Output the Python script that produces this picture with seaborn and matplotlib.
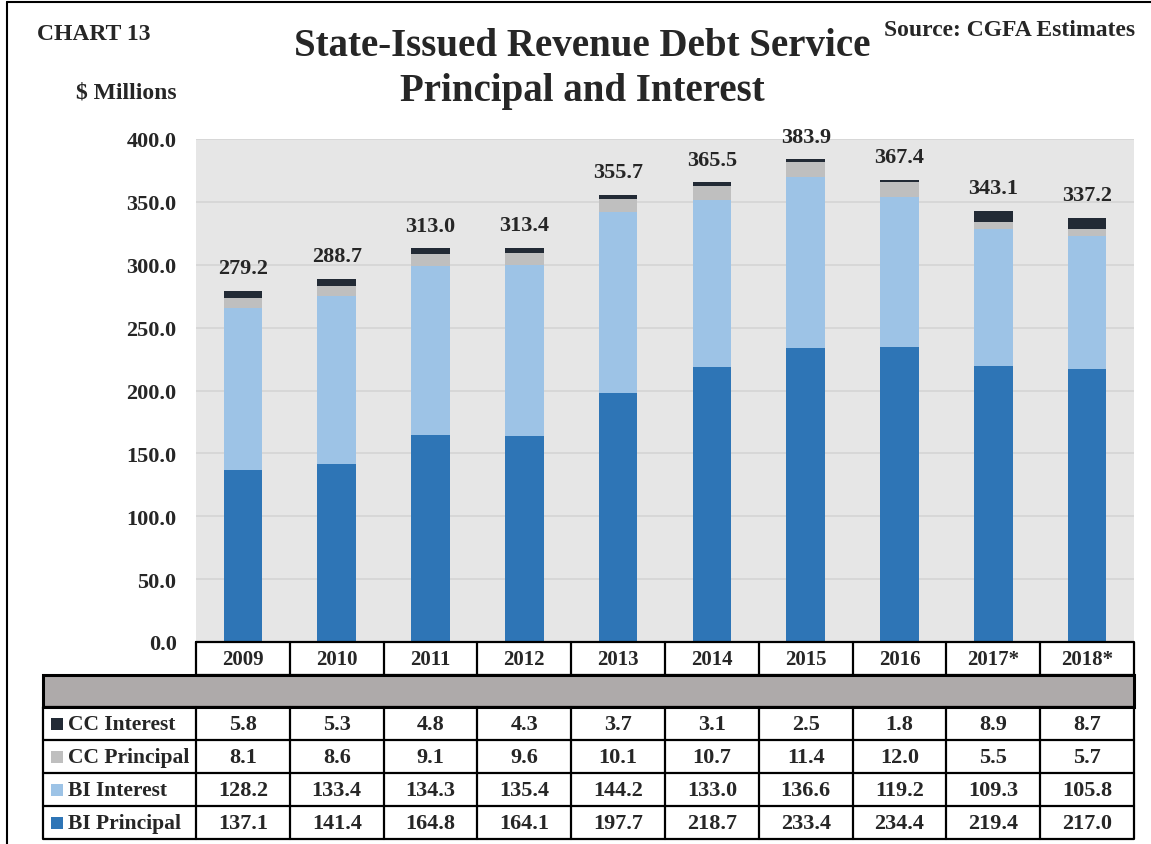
import numpy as np
import pandas as pd
import matplotlib
matplotlib.use("Agg")
import matplotlib.pyplot as plt
import seaborn as sns

years = ["2009", "2010", "2011", "2012", "2013", "2014", "2015", "2016", "2017*", "2018*"]
cc_interest = [5.8, 5.3, 4.8, 4.3, 3.7, 3.1, 2.5, 1.8, 8.9, 8.7]
cc_principal = [8.1, 8.6, 9.1, 9.6, 10.1, 10.7, 11.4, 12.0, 5.5, 5.7]
bi_interest = [128.2, 133.4, 134.3, 135.4, 144.2, 133.0, 136.6, 119.2, 109.3, 105.8]
bi_principal = [137.1, 141.4, 164.8, 164.1, 197.7, 218.7, 233.4, 234.4, 219.4, 217.0]

series_names = ["CC Interest", "CC Principal", "BI Interest", "BI Principal"]
series_vals = [cc_interest, cc_principal, bi_interest, bi_principal]
colors = {"BI Principal": "#2E75B6", "BI Interest": "#9DC3E6",
          "CC Principal": "#BFBFBF", "CC Interest": "#222A35"}

sns.set_style("white")
plt.rcParams["font.family"] = ["Liberation Serif", "DejaVu Serif"]
plt.rcParams["font.weight"] = "bold"

W, H = 1151, 845
fig = plt.figure(figsize=(W / 100, H / 100), dpi=100)

# plot area in pixels
L, R, T, B = 196, 1134, 140, 643
ax = fig.add_axes([L / W, 1 - B / H, (R - L) / W, (B - T) / H])
ax.set_facecolor("#E6E6E6")

df = pd.DataFrame({"year": years})
bottom = np.zeros(len(years))
for name in ["BI Principal", "BI Interest", "CC Principal", "CC Interest"]:
    vals = np.array(series_vals[series_names.index(name)])
    df[name] = vals
    sns.barplot(data=df, x="year", y=name, bottom=bottom, color=colors[name],
                saturation=1, width=0.41, ax=ax, errorbar=None, zorder=3,
                edgecolor="none")
    bottom = bottom + vals

totals = bottom
for i, t in enumerate(totals):
    ax.annotate(f"{t:.1f}", (i, t), xytext=(0, 9), textcoords="offset points",
                ha="center", va="bottom", fontsize=16, fontweight="bold")

ax.set_ylim(0, 400)
ax.set_xlim(-0.5, len(years) - 0.5)
ax.set_yticks(np.arange(0, 401, 50))
ax.set_yticklabels([f"{v:.1f}" for v in np.arange(0, 401, 50)], fontsize=16, fontweight="bold")
ax.set_xticks([])
ax.set_xlabel("")
ax.set_ylabel("")
ax.tick_params(axis="y", length=0, pad=14)
ax.grid(axis="y", color="#D4D4D4", linewidth=1.2, zorder=0)
ax.set_axisbelow(True)
for s in ax.spines.values():
    s.set_visible(False)

# overlay in pixel coordinates for titles and table
ov = fig.add_axes([0, 0, 1, 1], facecolor="none")
ov.set_xlim(0, W)
ov.set_ylim(H, 0)
ov.axis("off")

ov.plot([7, 7], [3, H], color="black", lw=1.5)
ov.plot([7, W], [3, 3], color="black", lw=1.5)

ov.text(37, 34, "CHART 13", fontsize=17, fontweight="bold", ha="left", va="center")
ov.text(177, 93, "$ Millions", fontsize=17, fontweight="bold", ha="right", va="center")
ov.text(582, 46, "State-Issued Revenue Debt Service", fontsize=28, fontweight="bold",
        ha="center", va="center")
ov.text(582, 91, "Principal and Interest", fontsize=28, fontweight="bold",
        ha="center", va="center")
ov.text(1135, 31, "Source: CGFA Estimates", fontsize=17, fontweight="bold",
        ha="right", va="center")

colw = (R - L) / len(years)
TL = 43
lw = 1.6
# year row
y0, y1 = 643, 676
ov.plot([L, R, R, L, L], [y0, y0, y1, y1, y0], color="black", lw=lw)
for i in range(1, len(years)):
    ov.plot([L + i * colw] * 2, [y0, y1], color="black", lw=lw)
for i, yr in enumerate(years):
    ov.text(L + (i + 0.5) * colw, (y0 + y1) / 2 + 1, yr, fontsize=15, fontweight="bold",
            ha="center", va="center")

# gray band
ov.add_patch(plt.Rectangle((TL, 676), R - TL, 32, facecolor="#AEAAAA",
                           edgecolor="black", lw=2.2))

# data rows
rows_top = 708
rh = 33
nrows = len(series_names)
ov.plot([TL, R, R, TL, TL], [rows_top, rows_top, rows_top + nrows * rh,
                             rows_top + nrows * rh, rows_top], color="black", lw=lw)
for r in range(1, nrows):
    ov.plot([TL, R], [rows_top + r * rh] * 2, color="black", lw=lw)
for i in range(0, len(years)):
    ov.plot([L + i * colw] * 2, [rows_top, rows_top + nrows * rh], color="black", lw=lw)
for r, name in enumerate(series_names):
    yc = rows_top + (r + 0.5) * rh
    ov.add_patch(plt.Rectangle((51, yc - 6), 12, 12, facecolor=colors[name], edgecolor="none"))
    ov.text(68, yc + 1, name, fontsize=15.5, fontweight="bold", ha="left", va="center")
    for i, v in enumerate(series_vals[r]):
        ov.text(L + (i + 0.5) * colw, yc + 1, f"{v:.1f}", fontsize=16, fontweight="bold",
                ha="center", va="center")

fig.savefig("out.png", dpi=100)
